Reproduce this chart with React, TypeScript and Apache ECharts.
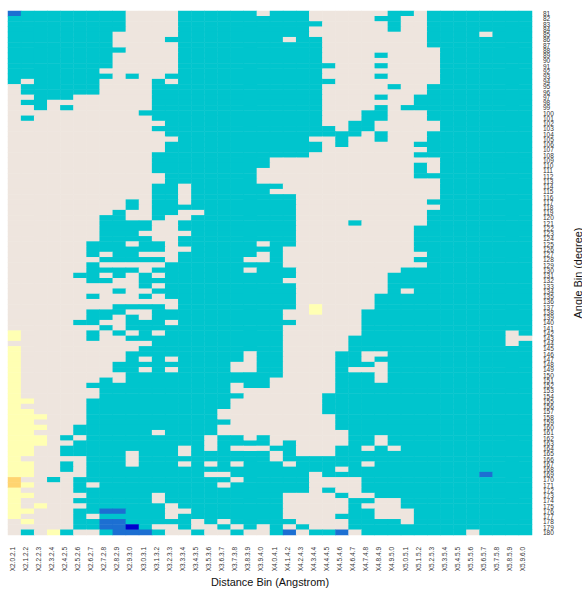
import React, { useEffect, useRef } from "react";
import * as echarts from "echarts";

const distanceBins = [
  "X2.0.2.1","X2.1.2.2","X2.2.2.3","X2.3.2.4","X2.4.2.5","X2.5.2.6","X2.6.2.7","X2.7.2.8","X2.8.2.9","X2.9.3.0",
  "X3.0.3.1","X3.1.3.2","X3.2.3.3","X3.3.3.4","X3.4.3.5","X3.5.3.6","X3.6.3.7","X3.7.3.8","X3.8.3.9","X3.9.4.0",
  "X4.0.4.1","X4.1.4.2","X4.2.4.3","X4.3.4.4","X4.4.4.5","X4.5.4.6","X4.6.4.7","X4.7.4.8","X4.8.4.9","X4.9.5.0",
  "X5.0.5.1","X5.1.5.2","X5.2.5.3","X5.3.5.4","X5.4.5.5","X5.5.5.6","X5.6.5.7","X5.7.5.8","X5.8.5.9","X5.9.6.0",
];

const angleBins = [
  "81","82","83","84","85","86","87","88","89","90","91","92","93","94","95","96","97","98","99","100",
  "101","102","103","104","105","106","107","108","109","110","111","112","113","114","115","116","117","118","119","120",
  "121","122","123","124","125","126","127","128","129","130","131","132","133","134","135","136","137","138","139","140",
  "141","142","143","144","145","146","147","148","149","150","151","152","153","154","155","156","157","158","159","160",
  "161","162","163","164","165","166","167","168","169","170","171","172","173","174","175","176","177","178","179","180",
];

// Run-length cell levels, per angle bin from top to bottom. Anything past a row's end is T.
// D = deep blue, L = blue, T = turquoise, B = seashell, Y = pale yellow, O = orange
const rowRuns = [
  "L1T8B4T6B1T3B6T2B1",
  "T9B4T10B5T2B2",
  "T9B4T11B5T1B2",
  "T9B4T10B6T1B2",
  "T8B5T10B9T4B1",
  "T8B4T9B1T2B8",
  "T8B5T11B8",
  "T9B4T11B9",
  "T8B5T11B4T1B4",
  "T8B5T11B9",
  "T8B5T12B3T1B4",
  "T7B6T11B9",
  "T8B1T1B2T12B4T1B4",
  "T1B1T5B4T1B1T12B8",
  "B1T6B4T13B5T1B2",
  "B1T6B4T13B8",
  "B2T3B6T13B4T1B2",
  "B1T2B8T13B7",
  "B2T1B1T1B6T13B4T1B1",
  "B10T14B3T2B3",
  "B1T1B9T13B3T2B3",
  "B12T12B2T2B5",
  "B11T14B1T2B5",
  "B12T15B1T1B3",
  "B13T10B2T1B2T1B3",
  "B12T12B1T1B5T1",
  "B12T12B8",
  "B11T12B8T1",
  "B11T9B13",
  "B11T9B11T1B1",
  "B11T8B12T1B1",
  "B12T7B12T2",
  "B12T7B14",
  "B11T2B1T7B12",
  "B11T2B1T6B13",
  "B11T2B1T8B11",
  "B9T1B1T2B1T8B10",
  "B9T1B1T11B11",
  "B8T1B2T2B2T7B10",
  "B7T2B2T1B2T8B10",
  "B7T4B2T9B4T1B5",
  "B7T4B2T9B9",
  "B7T3B4T8B9",
  "B7T4B2T9B9",
  "B6T3B1T2B1T6B1T2B9",
  "B6T6B2T7B10",
  "B6T1B1T2B3T6B1T1B11",
  "B7T5B1T5B2T1B10",
  "B6T1B5T9B11",
  "B6T4B1T7B1T3B8",
  "B5T2B1T1B1T1B1T10B7",
  "B6T2B2T11B8",
  "B10T1B1T10B7",
  "B8T1B2T11B7T1B1",
  "B6T1B3T1B1T10B6",
  "B13T9B6",
  "B8T4B1T9B1Y1B4",
  "B6T3B2T10B2Y1B3",
  "B6T2B1T1B1T10B6",
  "B5T2B2T3B1T9B5",
  "B7T1B1T12B6",
  "Y1B5T1B1T1B1T1B1T9B6T11B1",
  "Y1B5T1B2T12B5T12B2",
  "B11T10B5T12B1",
  "Y1B9T11B5",
  "Y1B8T9B1T2B4T2B2",
  "Y1B8T1B1T1B1T5B1T2B4T2B1",
  "Y1B7T9B2T2B4T3B1",
  "Y1B7T2B1T1B1T4B2T2B4T1B3",
  "Y1B8T12B4T3B1",
  "Y1B6T1B1T11B5T3B1",
  "Y1B5T11B1T2B5",
  "Y1B6T10B8",
  "Y1B6T11B6",
  "Y2B4T11B7",
  "Y1B5T11B7",
  "Y2B4T10B8",
  "Y3B3T10B9",
  "Y2B4T11B8",
  "Y3B2T11B9",
  "Y2B3T6B1T4B10",
  "Y3B1T1B1T9B1T2B1T1B6T2B1",
  "Y3B2T10B1T4B1T1B4T2B1",
  "Y2B2T9B1T1B1T1B3T2B3T2B1T1B1",
  "Y2B2T5B1T3B1T6B1T1B3",
  "Y1B5T3B1T10B1",
  "Y2B2T1B1T3B1T3B1T1B1T1B1T3B1T5B1",
  "Y2B2T1B1T19B1",
  "Y2B4T9B2T6B1T12L1",
  "O1B2T1B1T12B1T5B4",
  "O1Y1B3T1B1T9B1T6B4",
  "Y1B4T18B1T1B2",
  "Y2B4T5B1T9B4T1B2",
  "Y1B4T6B1T9B5T2B2",
  "Y1B1Y1B3T6B1T8B5T1B3",
  "Y2B3T2L2T3B2T7B5T2B3",
  "Y1B4T1B1T5B1T8B4T3B3",
  "B1Y1B3T2L2T5B1T1B1T5B4T4B1",
  "B5T2L2D1T1B2T1B2T1B1T1B1T1B1T1B3",
  "B1T1B1Y1T1B2T1L3T1B2T1B2T1B2T1L1B1T2L1B1T8B1",
];

const levelOfCode: Record<string, number> = { D: 0, L: 1, T: 2, B: 3, Y: 4, O: 5 };
const levelColors = ["#0000CD", "#1C6FD2", "#00C5CD", "#EEE5DE", "#FFFFB3", "#FFD470"];

function decodeRow(runs: string): number[] {
  const cells: number[] = [];
  for (const m of runs.matchAll(/([DLTBYO])(\d+)/g)) {
    for (let i = 0; i < Number(m[2]); i++) cells.push(levelOfCode[m[1]]);
  }
  while (cells.length < distanceBins.length) cells.push(levelOfCode.T);
  return cells;
}

const FONT = '"Liberation Sans", Arial, Helvetica, sans-serif';

export default function App() {
  const ref = useRef<HTMLDivElement>(null);
  useEffect(() => {
    if (!ref.current) return;
    const chart = echarts.init(ref.current, undefined, { renderer: "svg" });
    const data: number[][] = [];
    rowRuns.forEach((runs, r) => {
      decodeRow(runs).forEach((level, c) => data.push([c, r, level]));
    });
    chart.setOption({
      animation: false,
      backgroundColor: "#ffffff",
      grid: { left: 8, top: 11, width: 524, height: 524, outerBoundsMode: "none" },
      xAxis: {
        type: "category",
        data: distanceBins,
        position: "bottom",
        name: "Distance Bin (Angstrom)",
        nameLocation: "middle",
        nameMoveOverlap: false,
        nameGap: 41,
        nameTextStyle: { fontFamily: FONT, fontSize: 10.9, color: "#111" },
        axisLine: { show: false },
        axisTick: { show: false },
        splitLine: { show: false },
        splitArea: { show: false },
        axisLabel: {
          interval: 0,
          rotate: 90,
          margin: 12,
          verticalAlign: "bottom",
          lineHeight: 5,
          fontFamily: FONT,
          fontSize: 6.5,
          color: "#333",
        },
      },
      yAxis: {
        type: "category",
        data: angleBins,
        inverse: true,
        position: "right",
        name: "Angle Bin (degree)",
        nameLocation: "middle",
        nameMoveOverlap: false,
        nameRotate: 90,
        nameGap: 40,
        nameTextStyle: { fontFamily: FONT, fontSize: 10.9, color: "#111" },
        axisLine: { show: false },
        axisTick: { show: false },
        splitLine: { show: false },
        splitArea: { show: false },
        axisLabel: {
          interval: 0,
          margin: 11,
          align: "left",
          fontFamily: FONT,
          fontSize: 6.5,
          color: "#333",
        },
      },
      visualMap: {
        type: "piecewise",
        show: false,
        dimension: 2,
        seriesIndex: 0,
        pieces: levelColors.map((color, i) => ({ value: i, color })),
      },
      series: [
        {
          type: "heatmap",
          data,
          itemStyle: { borderWidth: 0 },
          progressive: 0,
          emphasis: { disabled: true },
        },
      ],
    });
    return () => chart.dispose();
  }, []);
  return (
    <div
      ref={ref}
      style={{ position: "absolute", left: 0, top: 0, width: 582, height: 592 }}
    />
  );
}
